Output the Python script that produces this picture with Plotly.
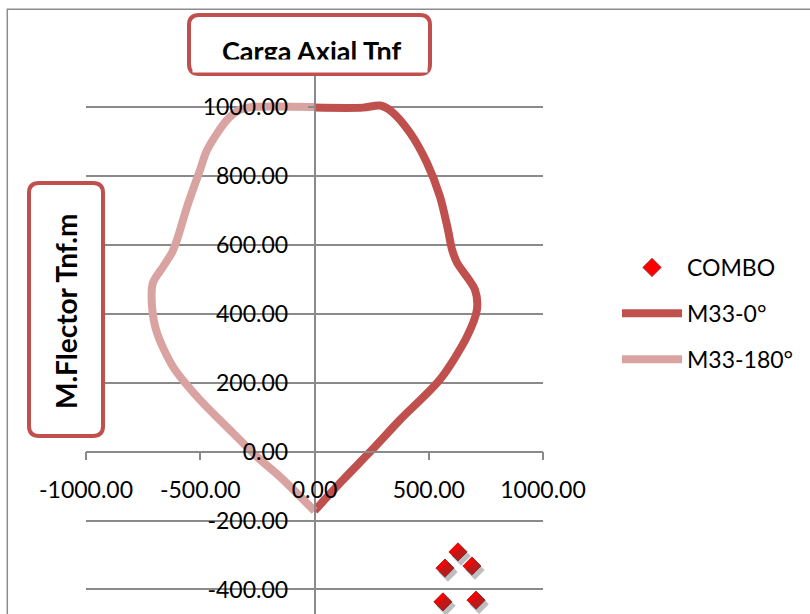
import plotly.graph_objects as go

# Interaction diagram data (moment Tnf.m on x, axial load Tnf on y)
m33_0_moment = [0, 125, 252, 374, 549, 667, 711, 702, 624, 602, 584, 549, 492, 418, 339, 287, 212, 0]
m33_0_axial = [-172, -82, 5, 92, 209, 333, 412, 470, 548, 586, 644, 740, 838, 925, 986, 1004, 998, 998]

m33_180_moment = [0, -151, -252, -357, -501, -619, -689, -711, -707, -663, -624, -602, -558, -501, -470, -383, -326, -269, 0]
m33_180_axial = [-172, -73, -15, 54, 150, 246, 344, 420, 490, 536, 577, 614, 710, 817, 875, 962, 992, 1000, 1000]

combo_moment = [571, 628, 689, 562, 707]
combo_axial = [-338, -291, -332, -436, -431]

x_ticks = [-1000, -500, 0, 500, 1000]
y_ticks = [-400, -200, 0, 200, 400, 600, 800, 1000, 1200]
y_tick_text = ["-400.00", "-200.00", "0.00", "200.00", "400.00", "600.00", "800.00", "1000.00", ""]

# canvas geometry
W, H = 810, 614
ML, MR, MT, MB = 86, 267, 38, 0
PW, PH = W - ML - MR, H - MT - MB
X_RANGE = [-1000, 1000]
Y_RANGE = [-471.2, 1200]
UX = (X_RANGE[1] - X_RANGE[0]) / PW
UY = (Y_RANGE[1] - Y_RANGE[0]) / PH

RED = "#C0504D"
PINK = "#D9A3A1"
GRID = "#8A8A8A"
FONT = "Lato"


def px(x):
    return (x - ML) / PW


def py(y):
    return (H - MB - y) / PH


def rounded_box(x0, y0, x1, y1, r):
    rx, ry = r / PW, r / PH
    a, b, c, d = px(x0), py(y1), px(x1), py(y0)
    return (f"M {a + rx} {b} L {c - rx} {b} Q {c} {b} {c} {b + ry} "
            f"L {c} {d - ry} Q {c} {d} {c - rx} {d} L {a + rx} {d} "
            f"Q {a} {d} {a} {d - ry} L {a} {b + ry} Q {a} {b} {a + rx} {b} Z")


fig = go.Figure()

# drop shadow under the combo points
fig.add_trace(go.Scatter(
    x=combo_moment, y=combo_axial, mode="markers", xaxis="x2", yaxis="y2",
    marker=dict(symbol="diamond", size=15, color="rgba(70,70,70,0.35)",
                line=dict(width=0)),
    showlegend=False, hoverinfo="skip"))

fig.add_trace(go.Scatter(
    x=combo_moment, y=combo_axial, mode="markers", name="COMBO",
    legendgroup="a",
    marker=dict(symbol="diamond", size=14, color="#FF0000",
                line=dict(color="#9B2B2B", width=1))))

fig.add_trace(go.Scatter(
    x=m33_0_moment, y=m33_0_axial, mode="lines", name="M33-0°",
    legendgroup="b",
    line=dict(color=RED, width=8, shape="spline", smoothing=0.8)))

fig.add_trace(go.Scatter(
    x=m33_180_moment, y=m33_180_axial, mode="lines", name="M33-180°",
    legendgroup="c",
    line=dict(color=PINK, width=8, shape="spline", smoothing=0.8)))

tick_font = dict(family=FONT, size=23, color="#000000")

fig.update_layout(
    width=W, height=H,
    margin=dict(l=ML, r=MR, t=MT, b=MB, pad=0),
    paper_bgcolor="white", plot_bgcolor="white",
    xaxis=dict(range=X_RANGE, tickvals=x_ticks, ticktext=[f"{v:.2f}" for v in x_ticks],
               showgrid=False, zeroline=False, showline=True, linecolor=GRID, linewidth=1.5,
               ticks="outside", ticklen=8, tickwidth=1.5, tickcolor=GRID,
               anchor="free", position=(0 - Y_RANGE[0]) / (Y_RANGE[1] - Y_RANGE[0]),
               tickfont=tick_font, ticklabelstandoff=10, fixedrange=True),
    yaxis=dict(range=Y_RANGE, tickvals=y_ticks, ticktext=y_tick_text,
               showgrid=True, gridcolor=GRID, gridwidth=1.5, zeroline=False,
               showline=True, linecolor=GRID, linewidth=1.5,
               ticks="outside", ticklen=6, tickwidth=1.5, tickcolor=GRID,
               anchor="free", position=0.5,
               tickfont=tick_font, ticklabelstandoff=15, fixedrange=True),
    xaxis2=dict(range=[X_RANGE[0] - 3 * UX, X_RANGE[1] - 3 * UX], overlaying="x",
                visible=False, fixedrange=True),
    yaxis2=dict(range=[Y_RANGE[0] + 4 * UY, Y_RANGE[1] + 4 * UY], overlaying="y",
                visible=False, fixedrange=True),
    showlegend=True,
    legend=dict(x=px(617), y=py(246), xanchor="left", yanchor="top",
                font=dict(family=FONT, size=23, color="#000000"),
                itemwidth=60, tracegroupgap=13, bgcolor="rgba(0,0,0,0)",
                traceorder="grouped"),
)

fig.update_layout(shapes=[
    # outer chart frame
    dict(type="rect", xref="paper", yref="paper", x0=px(7.3), x1=px(W + 20),
         y0=py(H + 20), y1=py(9.3), line=dict(color="#8C8C8C", width=1.5),
         fillcolor="rgba(0,0,0,0)", layer="below"),
    # title boxes
    dict(type="path", xref="paper", yref="paper", path=rounded_box(189, 15, 430, 74, 10),
         line=dict(color=RED, width=4), fillcolor="white", layer="above"),
    dict(type="path", xref="paper", yref="paper", path=rounded_box(29, 183, 103, 436, 10),
         line=dict(color=RED, width=4), fillcolor="white", layer="above"),
])

fig.update_layout(annotations=[
    dict(text="<b>Carga Axial Tnf</b>", xref="paper", yref="paper",
         x=px(311), y=py(51), xanchor="center", yanchor="middle", showarrow=False,
         font=dict(family=FONT, size=27, color="#000000")),
    # lower strip of the title box is blank
    dict(text=" ", xref="paper", yref="paper", x=px(309.5), y=py(65.5),
         xanchor="center", yanchor="middle", showarrow=False, width=234, height=12,
         borderpad=0, bgcolor="white"),
    dict(text="<b>M.Flector Tnf.m</b>", xref="paper", yref="paper",
         x=px(66), y=py(312), xanchor="center", yanchor="middle", showarrow=False,
         textangle=-90, font=dict(family=FONT, size=28, color="#000000")),
])

fig.write_html("out.html")
